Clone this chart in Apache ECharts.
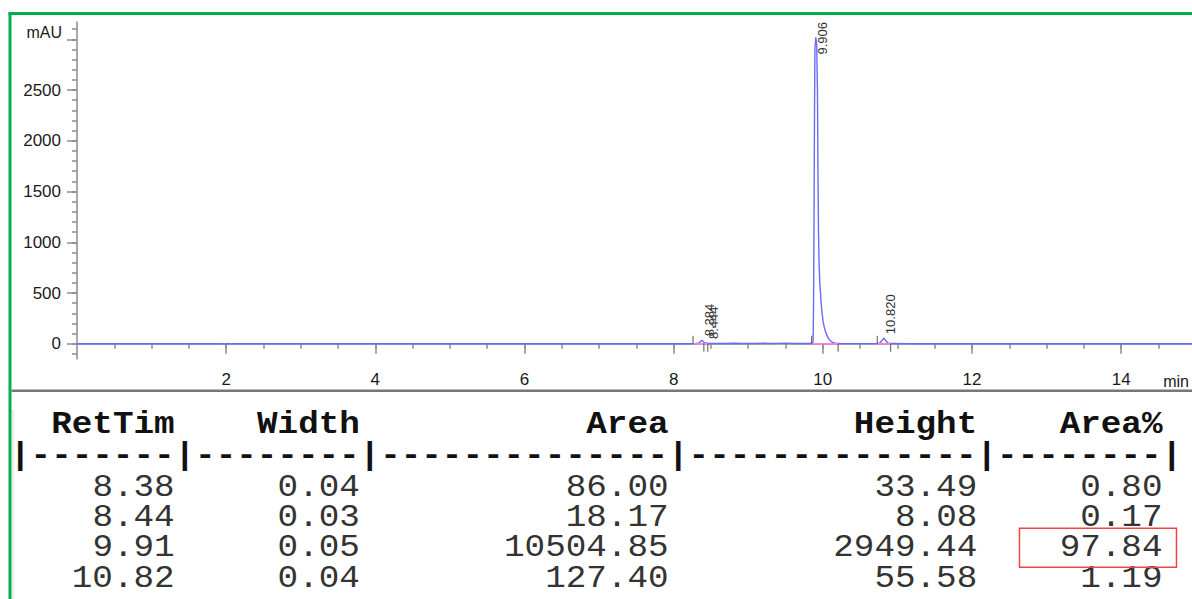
<!DOCTYPE html>
<html><head><meta charset="utf-8">
<script src="https://cdn.jsdelivr.net/npm/echarts@6/dist/echarts.min.js"></script>
<style>html,body{margin:0;padding:0;background:#fff;overflow:hidden}#chart{width:1192px;height:599px}</style>
</head><body><div id="chart"></div>
<script>
// ---- chromatogram trace (min, mAU) ----
const traceTime = [0.00, 1.00, 1.95, 1.98, 2.01, 2.04, 3.30, 3.40, 3.50, 5.70, 5.75, 5.80, 8.20, 8.30, 8.34, 8.37, 8.384, 8.40, 8.42, 8.444, 8.46, 8.50, 8.60, 8.70, 8.80, 8.90, 9.00, 9.10, 9.20, 9.30, 9.40, 9.50, 9.60, 9.70, 9.80, 9.86, 9.870, 9.876, 9.882, 9.888, 9.894, 9.906, 9.918, 9.928, 9.935, 9.942, 9.950, 9.960, 9.975, 9.990, 10.005, 10.020, 10.040, 10.060, 10.080, 10.100, 10.130, 10.170, 10.220, 10.40, 10.70, 10.76, 10.79, 10.820, 10.845, 10.87, 10.91, 11.20, 14.95];
const traceMAU  = [0, 0, 0, -4, 2, 0, 0, 1.5, 0, 0, 1, 0, 0, 1, 8, 30, 33.5, 18, 6, 8, 3, 2, 4, 3, 5, 3, 4, 3, 5, 3, 4, 6, 3, 4, 2, 2, 30, 400, 1200, 2200, 2900, 3020, 2950, 2500, 1700, 1100, 780, 600, 430, 300, 215, 160, 110, 75, 48, 30, 14, 5, 2, 1, 1, 5, 30, 55.6, 30, 8, 2, 0, 0];

// ---- peak annotations ----
const peakRT     = [8.384, 8.444, 9.906, 10.820];
const peakTop    = [33.5, 8.1, 3020, 55.6];
const peakLabels = ['8.384', '8.444', '9.906', '10.820'];

// ---- integration events ----
const eventUp   = [8.26, 9.85, 10.73];
const eventDown = [8.405, 8.458, 10.205, 10.91];
const baseFrom  = [8.26, 9.85, 10.73];
const baseTo    = [8.458, 10.205, 10.91];

// ---- axis ticks ----
const xMajorTicks = [2, 4, 6, 8, 10, 12, 14];
const xMinorTicks = [0.5, 1, 1.5, 2, 2.5, 3, 3.5, 4, 4.5, 5, 5.5, 6, 6.5, 7, 7.5, 8, 8.5, 9, 9.5, 10, 10.5, 11, 11.5, 12, 12.5, 13, 13.5, 14, 14.5];
const yMajorTicks = [0, 500, 1000, 1500, 2000, 2500, 3000];
const yLabelTicks = [0, 500, 1000, 1500, 2000, 2500];
const yMinorTicks = [-100, 0, 100, 200, 300, 400, 500, 600, 700, 800, 900, 1000, 1100, 1200, 1300, 1400, 1500, 1600, 1700, 1800, 1900, 2000, 2100, 2200, 2300, 2400, 2500, 2600, 2700, 2800, 2900, 3000, 3100];

// ---- report table ----
const tableHeaders = ['RetTim', 'Width', 'Area', 'Height', 'Area%'];
const retTime  = [8.38, 8.44, 9.91, 10.82];
const peakWidth = [0.04, 0.03, 0.05, 0.04];
const peakArea = [86.00, 18.17, 10504.85, 127.40];
const peakHeight = [33.49, 8.08, 2949.44, 55.58];
const areaPct  = [0.80, 0.17, 97.84, 1.19];
const highlightRow = 2, highlightCol = 4;

const AXIS_COLOR = '#8c8c8c';
const LABEL_FONT = "'Liberation Sans', Arial, sans-serif";
const MONO = "'Liberation Mono', 'Courier New', monospace";

const chart = echarts.init(document.getElementById('chart'), null, {renderer: 'svg'});

function xAxisCfg(ticks, len, labels) {
  return {
    type: 'value', min: 0, max: 14.95, position: 'bottom', gridIndex: 0,
    axisLine: {show: !!labels, lineStyle: {color: AXIS_COLOR, width: 1.5}},
    axisTick: {show: true, customValues: ticks, length: len, lineStyle: {color: AXIS_COLOR, width: 1.5}},
    axisLabel: labels ? {show: true, customValues: labels, margin: 12, fontSize: 17, color: '#1a1a1a', fontFamily: LABEL_FONT,
      formatter: v => String(v)} : {show: false},
    splitLine: {show: false}
  };
}
function yAxisCfg(ticks, len, labels) {
  return {
    type: 'value', min: -150, max: 3170, position: 'left', gridIndex: 0,
    axisLine: {show: !!labels, lineStyle: {color: AXIS_COLOR, width: 1.5}},
    axisTick: {show: true, customValues: ticks, length: len, lineStyle: {color: AXIS_COLOR, width: 1.5}},
    axisLabel: labels ? {show: true, customValues: labels, margin: 16, fontSize: 17, color: '#1a1a1a', fontFamily: LABEL_FONT,
      formatter: v => String(v)} : {show: false},
    splitLine: {show: false}
  };
}

// table layout
const CH = 20.58, X0 = 10;
const FS = 30, SX = CH / (FS * 0.6), SY = 1.06;
const colEndCell = [8, 17, 32, 47, 56];
const colRight = colEndCell.map(c => X0 + CH * c);
const headerY = 424, sepY = 455, rowY0 = 487, rowStep = 30.4;
const columns = [retTime, peakWidth, peakArea, peakHeight, areaPct];
let sepText = '';
let prev = 0;
colEndCell.forEach((c) => { sepText += '|' + '-'.repeat(c - prev - 1); prev = c; });
sepText += '|';

function monoText(x, y, text, bold, align, fill) {
  return {type: 'text', x: x, y: y, scaleX: SX, scaleY: SY,
    style: {text: text, font: (bold ? 'bold ' : '') + FS + 'px ' + MONO, fill: fill, align: align, verticalAlign: 'middle'}};
}

const graphics = [
  {type: 'rect', shape: {x: 8.5, y: 12, width: 1190, height: 3}, style: {fill: '#00b050'}, z: 100},
  {type: 'rect', shape: {x: 8.5, y: 12, width: 3, height: 600}, style: {fill: '#00b050'}, z: 100},
  {type: 'rect', shape: {x: 11.5, y: 389.5, width: 1190, height: 2.5}, style: {fill: '#777'}, z: 100},
  {type: 'rect', shape: {x: 12.5, y: 410, width: 1, height: 190}, style: {fill: '#d6d6d6'}, z: 100},
  {type: 'text', x: 62, y: 32, style: {text: 'mAU', font: "16px " + LABEL_FONT, fill: '#1a1a1a', align: 'right', verticalAlign: 'middle'}},
  {type: 'text', x: 1189, y: 381, style: {text: 'min', font: "16px " + LABEL_FONT, fill: '#1a1a1a', align: 'right', verticalAlign: 'middle'}},
  monoText(X0, sepY, sepText, true, 'left', '#111')
];
tableHeaders.forEach((h, c) => graphics.push(monoText(colRight[c], headerY, h, true, 'right', '#111')));
columns.forEach((col, c) => {
  col.forEach((v, r) => graphics.push(monoText(colRight[c], rowY0 + rowStep * r, v.toFixed(2), false, 'right', '#333')));
});
{
  const right = colRight[highlightCol] + 14, left = right - 157;
  const cy = rowY0 + rowStep * highlightRow;
  graphics.push({type: 'rect', shape: {x: left, y: cy - 19.5, width: 157, height: 39},
    style: {fill: 'none', stroke: '#f04545', lineWidth: 1.5}, z: 100});
}

const option = {
  animation: false,
  backgroundColor: '#fff',
  grid: {left: 77, right: 0, top: 22, bottom: 240, containLabel: false},
  xAxis: [xAxisCfg(xMajorTicks, 10, xMajorTicks), xAxisCfg(xMinorTicks, 5, null)],
  yAxis: [yAxisCfg(yMajorTicks, 10, yLabelTicks), yAxisCfg(yMinorTicks, 5, null)],
  series: [
    {
      type: 'line', xAxisIndex: 0, yAxisIndex: 0, symbol: 'none', showSymbol: false,
      data: traceTime.map((t, i) => [t, traceMAU[i]]),
      lineStyle: {color: '#6a6aff', width: 1.4}, z: 2
    },
    {
      type: 'custom', xAxisIndex: 0, yAxisIndex: 0, z: 3,
      data: baseFrom.map((s, i) => [s, baseTo[i]]),
      renderItem: function (params, api) {
        const a = api.coord([api.value(0), 0]);
        const b = api.coord([api.value(1), 0]);
        return {type: 'line', shape: {x1: a[0], y1: a[1], x2: b[0], y2: b[1]},
          style: {stroke: '#ff7ddc', lineWidth: 1.5}};
      }
    },
    {
      type: 'custom', xAxisIndex: 0, yAxisIndex: 0, z: 4,
      data: eventUp.map(t => [t, 1]).concat(eventDown.map(t => [t, -1])),
      renderItem: function (params, api) {
        const p = api.coord([api.value(0), 0]);
        const dir = api.value(1);
        return {type: 'line', shape: {x1: p[0], y1: p[1], x2: p[0], y2: p[1] - dir * 8},
          style: {stroke: '#555', lineWidth: 1}};
      }
    },
    {
      type: 'custom', xAxisIndex: 0, yAxisIndex: 0, z: 5, clip: false,
      data: peakRT.map((t, i) => [t, peakTop[i]]),
      renderItem: function (params, api) {
        const p = api.coord([api.value(0), api.value(1)]);
        const txt = peakLabels[params.dataIndex];
        const w = txt.length * 7.2;
        const top = params.coordSys.y;
        let y = p[1] - 4, align = 'left';
        if (y - w < top) { y = top; align = 'right'; }
        return {type: 'text', x: p[0] + 7, y: y, rotation: Math.PI / 2,
          style: {text: txt, font: "13px " + LABEL_FONT, fill: '#333', align: align, verticalAlign: 'middle'}};
      }
    }
  ],
  graphic: graphics
};
chart.setOption(option);
</script>
</body></html>
